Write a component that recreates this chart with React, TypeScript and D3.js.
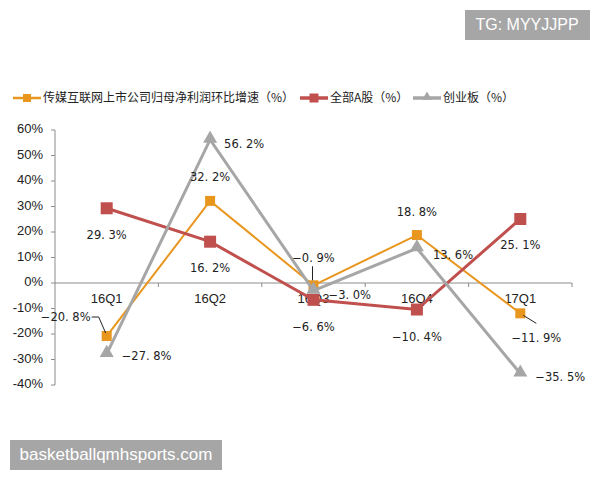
import React from 'react';
import * as d3 from 'd3';

const quarters = ['16Q1', '16Q2', '16Q3', '16Q4', '17Q1'];
const mediaGrowth = [-20.8, 32.2, -0.9, 18.8, -11.9];
const allAShares = [29.3, 16.2, -6.6, -10.4, 25.1];
const chinext = [-27.8, 56.2, -3.0, 13.6, -35.5];
const yTicks = [60, 50, 40, 30, 20, 10, 0, -10, -20, -30, -40];
const seriesNames = ['传媒互联网上市公司归母净利润环比增速（%）', '全部A股（%）', '创业板（%）'];

const ORANGE = '#E8961E';
const RED = '#C0504D';
const GREY = '#A6A6A6';

const fmt = (v: number) => {
  const s = v.toFixed(1).replace('-', '−');
  return s.replace('.', '. ') + '%';
};

// label offsets relative to the point (dx, dy, anchor)
const mediaLab: [number, number, string][] = [
  [-41, -19, 'middle'],
  [0, -23, 'middle'],
  [0, -27, 'middle'],
  [0, -23, 'middle'],
  [16, 25, 'middle'],
];
const redLab: [number, number, string][] = [
  [0, 27, 'middle'],
  [0, 27, 'middle'],
  [0, 28, 'middle'],
  [0, 28, 'middle'],
  [0, 27, 'middle'],
];
const greyLab: [number, number, string][] = [
  [15, 3, 'start'],
  [14, 5, 'start'],
  [15, 5, 'start'],
  [16, 7, 'start'],
  [15, 4, 'start'],
];

export default function App() {
  const left = 55;
  const right = 572;
  const y = d3.scaleLinear().domain([-40, 60]).range([385, 130]);
  const x = d3.scaleBand().domain(quarters).range([left, right]);
  const cx = (q: string) => (x(q) ?? 0) + x.bandwidth() / 2;

  const line = d3
    .line<number>()
    .x((_, i) => cx(quarters[i]))
    .y((d) => y(d));

  const labelFont = "'DejaVu Sans', sans-serif";

  const renderLabels = (vals: number[], offs: [number, number, string][]) =>
    vals.map((v, i) => (
      <text
        key={i}
        x={cx(quarters[i]) + offs[i][0]}
        y={y(v) + offs[i][1]}
        textAnchor={offs[i][2] as any}
        dominantBaseline="middle"
        fontSize={11.5}
        fontFamily={labelFont}
        fill="#222"
      >
        {fmt(v)}
      </text>
    ));

  const tri = d3.symbol().type(d3.symbolTriangle).size(85)();

  const legendItems = [
    { x: 13, color: ORANGE, w: 2.5, marker: 'sq', size: 8 },
    { x: 300, color: RED, w: 3.5, marker: 'sq', size: 9 },
    { x: 413, color: GREY, w: 3.5, marker: 'tri', size: 9 },
  ];

  const q0 = cx(quarters[0]);
  const p0 = y(mediaGrowth[0]);

  return (
    <svg
      width={600}
      height={480}
      style={{ position: 'absolute', left: 0, top: 0, background: '#fff' }}
    >
      {/* watermark boxes */}
      <rect x={465} y={10} width={125} height={30} fill="#A6A6A6" />
      <text x={527} y={26} textAnchor="middle" dominantBaseline="middle" fill="#fff" fontSize={16} fontFamily="'Liberation Sans', Arial, sans-serif">
        TG: MYYJJPP
      </text>

      {/* legend */}
      {legendItems.map((it, i) => (
        <g key={i}>
          <line x1={it.x} x2={it.x + 28} y1={98} y2={98} stroke={it.color} strokeWidth={it.w} />
          {it.marker === 'sq' ? (
            <rect x={it.x + 14 - it.size / 2} y={98 - it.size / 2} width={it.size} height={it.size} fill={it.color} />
          ) : (
            <path d={d3.symbol().type(d3.symbolTriangle).size(40)() ?? ''} transform={`translate(${it.x + 14},97)`} fill={it.color} />
          )}
          <text x={it.x + 30} y={99} dominantBaseline="middle" fontSize={12} fontFamily="'Noto Sans CJK SC', sans-serif" fill="#222">
            {seriesNames[i]}
          </text>
        </g>
      ))}

      {/* y axis */}
      <line x1={left} x2={left} y1={y(60)} y2={y(-40)} stroke="#8C8C8C" strokeWidth={1} />
      {yTicks.map((t) => (
        <g key={t}>
          <line x1={left - 4} x2={left} y1={y(t)} y2={y(t)} stroke="#8C8C8C" />
          <text x={43} y={y(t)} textAnchor="end" dominantBaseline="middle" fontSize={13} fontFamily="'Liberation Sans', Arial, sans-serif" fill="#222">
            {t}%
          </text>
        </g>
      ))}

      {/* x axis at 0 */}
      <line x1={left} x2={right} y1={y(0)} y2={y(0)} stroke="#8C8C8C" strokeWidth={1} />
      {quarters.map((q) => (
        <line key={q} x1={(x(q) ?? 0) + x.bandwidth()} x2={(x(q) ?? 0) + x.bandwidth()} y1={y(0)} y2={y(0) + 4} stroke="#8C8C8C" />
      ))}
      {quarters.map((q) => (
        <text key={q} x={cx(q)} y={y(0) + 17} textAnchor="middle" dominantBaseline="middle" fontSize={13} fontFamily="'Liberation Sans', Arial, sans-serif" fill="#222">
          {q}
        </text>
      ))}

      {/* orange series */}
      <path d={line(mediaGrowth) ?? ''} fill="none" stroke={ORANGE} strokeWidth={2} />
      {mediaGrowth.map((v, i) => (
        <rect key={i} x={cx(quarters[i]) - 5} y={y(v) - 5} width={10} height={10} fill={ORANGE} />
      ))}

      {/* red series */}
      <path d={line(allAShares) ?? ''} fill="none" stroke={RED} strokeWidth={3} />
      {allAShares.map((v, i) => (
        <rect key={i} x={cx(quarters[i]) - 6} y={y(v) - 6} width={12} height={12} fill={RED} />
      ))}

      {/* grey series */}
      <path d={line(chinext) ?? ''} fill="none" stroke={GREY} strokeWidth={3} />
      {chinext.map((v, i) => (
        <path key={i} d={tri ?? ''} transform={`translate(${cx(quarters[i])},${y(v) - 1})`} fill={GREY} />
      ))}

      {/* leader lines */}
      <path d={`M${q0 - 15},${p0 - 19} H${q0 - 8} L${q0 - 1},${p0 - 3}`} fill="none" stroke="#222" strokeWidth={1} />
      <line x1={cx(quarters[2]) - 1} x2={cx(quarters[2]) - 1} y1={y(mediaGrowth[2]) - 19} y2={y(mediaGrowth[2]) - 5} stroke="#222" />
      <line x1={cx(quarters[4]) + 3} x2={cx(quarters[4]) + 16} y1={y(mediaGrowth[4]) + 2} y2={y(mediaGrowth[4]) + 10} stroke="#222" />

      {renderLabels(mediaGrowth, mediaLab)}
      {renderLabels(allAShares, redLab)}
      {renderLabels(chinext, greyLab)}

      <rect x={10} y={440} width={212} height={30} fill="#A6A6A6" />
      <text x={116} y={456} textAnchor="middle" dominantBaseline="middle" fill="#fff" fontSize={17} fontFamily="'Liberation Sans', Arial, sans-serif">
        basketballqmhsports.com
      </text>
    </svg>
  );
}
